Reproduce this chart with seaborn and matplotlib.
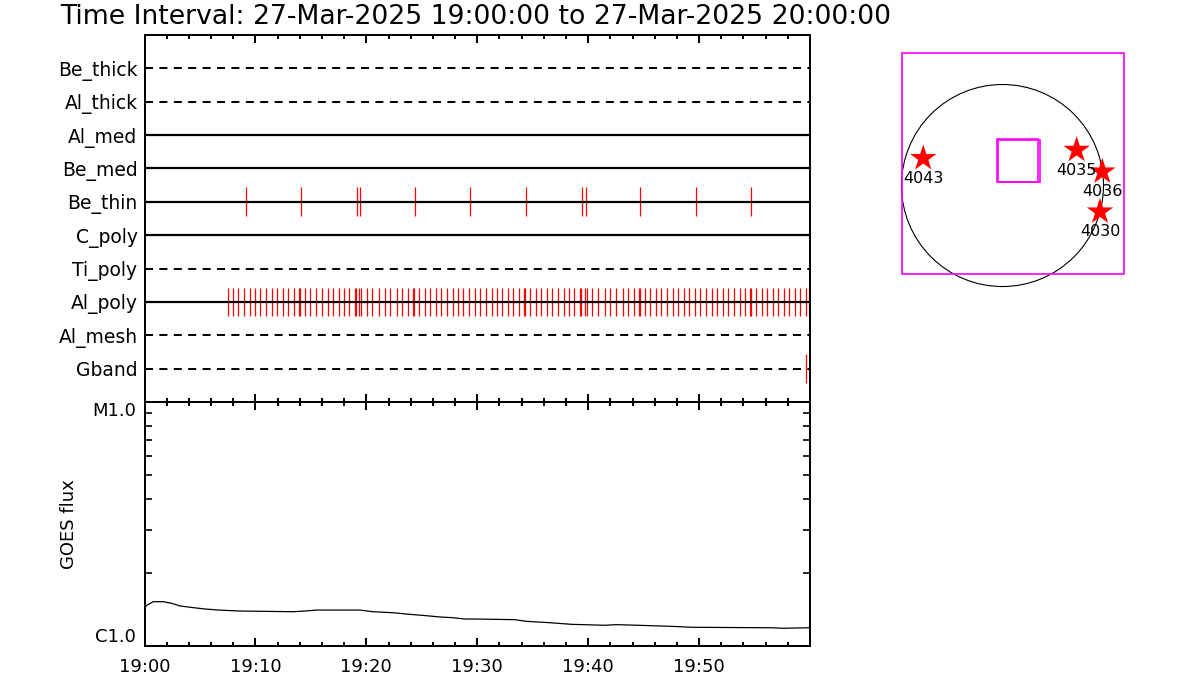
import matplotlib
matplotlib.use("Agg")
import matplotlib.pyplot as plt
import seaborn as sns
from matplotlib.patches import Circle, Rectangle
from matplotlib.ticker import FixedLocator, MultipleLocator, LogLocator, NullFormatter

# ---------------- data ----------------
title_text = "Time Interval: 27-Mar-2025 19:00:00 to 27-Mar-2025 20:00:00"

channels = ["Be_thick", "Al_thick", "Al_med", "Be_med", "Be_thin",
            "C_poly", "Ti_poly", "Al_poly", "Al_mesh", "Gband"]
dashed_channels = ["Be_thick", "Al_thick", "Ti_poly", "Al_mesh", "Gband"]

# exposure times (minutes after 19:00)
be_thin_times = [9.14, 14.13, 19.17, 19.44, 24.37, 29.37, 34.37, 39.44, 39.76,
                 44.68, 49.72, 54.68]
al_poly_times = [7.55, 8.0, 8.45, 8.99, 9.5, 9.95, 10.43, 10.97, 11.49, 11.96,
                 12.45, 12.95, 13.5, 13.95, 14.05, 14.49, 14.94, 15.48, 16.02,
                 16.5, 17.01, 17.52, 18.0, 18.45, 19.0, 19.1, 19.35, 19.53,
                 20.02, 20.52, 21.15, 21.64, 22.14, 22.77, 23.26, 23.77, 24.23,
                 24.33, 24.76, 25.27, 25.75, 26.29, 26.74, 27.28, 27.79, 28.27,
                 28.76, 29.26, 29.77, 30.25, 30.77, 31.31, 31.78, 32.27, 32.77,
                 33.26, 33.77, 34.23, 34.33, 34.76, 35.3, 35.78, 36.26, 36.77,
                 37.28, 37.79, 38.27, 38.76, 39.25, 39.35, 39.71, 39.86, 40.38,
                 40.86, 41.51, 41.99, 42.48, 43.14, 43.59, 44.1, 44.56, 44.66,
                 45.15, 45.6, 46.11, 46.59, 47.1, 47.61, 48.13, 48.6, 49.12,
                 49.62, 50.11, 50.65, 51.15, 51.64, 52.14, 52.63, 53.14, 53.65,
                 54.16, 54.56, 54.66, 55.15, 55.63, 56.14, 56.65, 57.14, 57.64,
                 58.15, 58.63, 59.14, 59.65, 59.93]
gband_times = [59.65]

time_tick_minutes = [0, 10, 20, 30, 40, 50]
time_tick_labels = ["19:00", "19:10", "19:20", "19:30", "19:40", "19:50"]

goes_minutes = [0.0, 0.25, 0.79, 1.69, 2.45, 3.2, 4.4, 5.45, 6.65, 8.6, 13.4,
                14.46, 15.51, 19.41, 20.61, 22.41, 23.62, 25.42, 26.62, 27.82,
                28.87, 29.77, 33.38, 34.43, 36.53, 38.49, 41.49, 42.54, 44.49,
                47.5, 49.44, 56.5, 57.55, 60.0]
goes_flux = [1.436e-6, 1.473e-6, 1.519e-6, 1.519e-6, 1.496e-6, 1.459e-6,
             1.436e-6, 1.418e-6, 1.404e-6, 1.391e-6, 1.382e-6, 1.391e-6,
             1.404e-6, 1.404e-6, 1.382e-6, 1.369e-6, 1.352e-6, 1.331e-6,
             1.315e-6, 1.306e-6, 1.290e-6, 1.290e-6, 1.282e-6, 1.262e-6,
             1.246e-6, 1.227e-6, 1.216e-6, 1.223e-6, 1.216e-6, 1.204e-6,
             1.193e-6, 1.188e-6, 1.182e-6, 1.188e-6]
goes_tick_values = [1e-6, 1e-5]
goes_tick_labels = ["C1.0", "M1.0"]

# solar map (arcsec)
sun_radius = 960
ar_numbers = ["4043", "4035", "4036", "4030"]
ar_x = [-753, 705, 949, 927]
ar_y = [259, 337, 131, -249]
fov_x0, fov_y0, fov_w, fov_h = -955, -844, 2113, 2106
img_boxes_x0 = [-55, -43]
img_boxes_y0 = [37, 30]
img_boxes_w = [390, 399]
img_boxes_h = [403, 404]

# ---------------- style ----------------
sns.set_theme(style="white")
plt.rcParams["font.family"] = ["DejaVu Sans"]
plt.rcParams["axes.linewidth"] = 1.44
plt.rcParams["axes.edgecolor"] = "black"
plt.rcParams["text.color"] = "black"
plt.rcParams["axes.labelcolor"] = "black"
plt.rcParams["xtick.color"] = "black"
plt.rcParams["ytick.color"] = "black"
plt.rcParams["xtick.labelcolor"] = "black"
plt.rcParams["ytick.labelcolor"] = "black"

W, H = 1200, 700
fig = plt.figure(figsize=(12, 7), dpi=100)
fig.patch.set_facecolor("white")

def rect(l, t, r, b):
    return [l / W, 1 - b / H, (r - l) / W, (b - t) / H]

ax1 = fig.add_axes(rect(144.5, 35, 810, 402))
ax2 = fig.add_axes(rect(144.5, 402, 810, 646))
ax3 = fig.add_axes(rect(880, 40, 1150, 300))

events = {"Be_thin": be_thin_times, "Al_poly": al_poly_times, "Gband": gband_times}

# ----- top panel -----
for i, ch in enumerate(channels):
    yv = i + 1
    if ch in dashed_channels:
        ax1.plot([0, 60], [yv, yv], color="black", lw=1.44, dashes=(4, 3.2), zorder=3)
    else:
        ax1.plot([0, 60], [yv, yv], color="black", lw=1.6, zorder=3)
    if ch in events:
        ax1.vlines(events[ch], yv - 0.43, yv + 0.43, color="red", lw=0.9, zorder=2)

ax1.set_xlim(0, 60)
ax1.set_ylim(11, 0)
ax1.set_yticks(range(1, len(channels) + 1))
ax1.set_yticklabels(channels, fontsize=13.5, color="black")
ax1.xaxis.set_major_locator(FixedLocator(time_tick_minutes))
ax1.xaxis.set_minor_locator(MultipleLocator(2))
ax1.tick_params(axis="x", which="both", direction="in", top=True, bottom=True,
                labelbottom=False, width=1.44, color="black")
ax1.tick_params(axis="x", which="major", length=6)
ax1.tick_params(axis="x", which="minor", length=3)
ax1.tick_params(axis="y", length=0, pad=5)
for s in ax1.spines.values():
    s.set_color("black"); s.set_linewidth(1.44)
ax1.set_facecolor("white")

# ----- GOES panel -----
sns.lineplot(x=goes_minutes, y=goes_flux, ax=ax2, color="black", lw=0.9)
ax2.set_yscale("log")
ax2.set_ylim(goes_tick_values[0], goes_tick_values[-1])
ax2.set_xlim(0, 60)
ax2.set_yticks(goes_tick_values)
ax2.set_yticklabels(goes_tick_labels, fontsize=13, color="black")
ax2.yaxis.set_minor_locator(LogLocator(base=10, subs=[2, 3, 4, 5, 6, 7, 8, 9]))
ax2.yaxis.set_minor_formatter(NullFormatter())
ax2.tick_params(axis="y", which="both", direction="in", left=True, right=True,
                width=1.2, color="black", pad=6)
ax2.tick_params(axis="y", which="major", length=7)
ax2.tick_params(axis="y", which="minor", length=5)
lbls = ax2.get_yticklabels()
lbls[0].set_va("bottom")
lbls[-1].set_va("top")
ax2.xaxis.set_major_locator(FixedLocator(time_tick_minutes))
ax2.set_xticklabels(time_tick_labels, fontsize=13, color="black")
ax2.xaxis.set_minor_locator(MultipleLocator(2))
ax2.tick_params(axis="x", which="both", direction="in", top=True, bottom=True,
                width=1.44, color="black", pad=9)
ax2.tick_params(axis="x", which="major", length=6)
ax2.tick_params(axis="x", which="minor", length=3)
ax2.set_ylabel("GOES flux", fontsize=13, color="black")
ax2.yaxis.set_label_coords(-0.1, 0.5)
for s in ax2.spines.values():
    s.set_color("black"); s.set_linewidth(1.44)
ax2.set_facecolor("white")

# ----- solar map -----
ax3.set_xlim(-1164, 1402)
ax3.set_ylim(-1088, 1383)
ax3.axis("off")
ax3.add_patch(Circle((0, 0), sun_radius, fill=False, edgecolor="black", lw=0.8, clip_on=False))
ax3.add_patch(Rectangle((fov_x0, fov_y0), fov_w, fov_h, fill=False,
                        edgecolor="#ff00ff", lw=1.2))
for bx, by, bw, bh in zip(img_boxes_x0, img_boxes_y0, img_boxes_w, img_boxes_h):
    ax3.add_patch(Rectangle((bx, by), bw, bh, fill=False, edgecolor="#ff00ff", lw=1.2))
sns.scatterplot(x=ar_x, y=ar_y, ax=ax3, marker="*", s=400, color="red",
                edgecolor="none", zorder=5, legend=False)
for num, xx, yy in zip(ar_numbers, ar_x, ar_y):
    ax3.annotate(num, (xx, yy), xytext=(0, -20), textcoords="offset pixels",
                 ha="center", va="center", fontsize=11.5, color="black", zorder=6)

fig.text(60 / W, 1 - 17 / H, title_text, fontsize=19.2, ha="left", va="center",
         color="black")

fig.savefig("out.png", dpi=100, facecolor="white")
